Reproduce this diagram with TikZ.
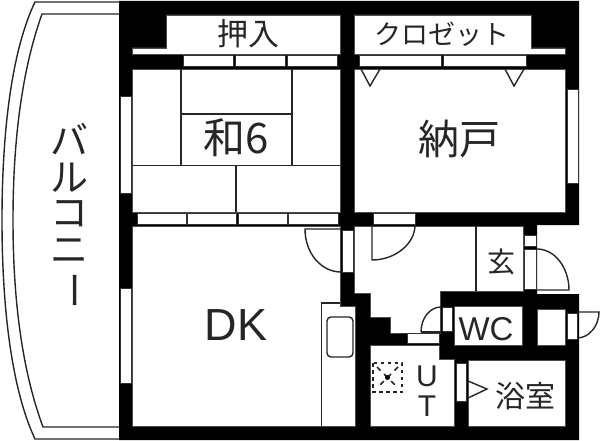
\documentclass[tikz,border=0pt]{standalone}
\usepackage{fontspec}
\setmainfont{Liberation Sans}
\newfontfamily\jpfont{Noto Sans CJK JP}
\usetikzlibrary{positioning}

\begin{document}
\begin{tikzpicture}[x=1pt,y=-1pt]
 \useasboundingbox (0,0) rectangle (600,441);
 \coordinate (origo) at (0,0);

\tikzstyle{room}=[fill=white,draw=black!70,line width=0.6pt]
\tikzstyle{sash}=[fill=white,draw=black!80,line width=1pt]
\tikzstyle{thinline}=[line width=1.4pt,black!85]
\tikzstyle{jplabel}=[inner sep=0pt,font=\jpfont,black!85]
\tikzstyle{latinlabel}=[inner sep=0pt,black!85]

   %draw balcony
    \draw[thinline] (119,2) -- (35,2) .. controls (12,50) and (2,130) .. (2,220) .. controls (2,310) and (12,390) .. (35,439) -- (119,439);
    \draw[thinline] (119,14) -- (42,14) .. controls (22,70) and (13,140) .. (13,220) .. controls (13,300) and (22,370) .. (43,427) -- (119,427);

   %draw walls
    \fill[black] (119,1) -- (579,1) -- (579,225) -- (537,225) -- (537,294) -- (579,294) -- (579,440) -- (119,440) -- cycle;

   %draw rooms
    \filldraw[room] (166,15) -- (340,15) -- (340,54) -- (132,54) -- (132,48) -- (166,48) -- cycle;
    \filldraw[room] (354,15) -- (531,15) -- (531,48) -- (565,48) -- (565,54) -- (354,54) -- cycle;
    \filldraw[room] (132,69) rectangle (340,212);
    \filldraw[room] (354,69) rectangle (565,212);
    \filldraw[room] (132,226) -- (340,226) -- (340,306) -- (355,306) -- (355,426) -- (132,426) -- cycle;
    \filldraw[room] (354,226) -- (523,226) -- (523,291) -- (440,291) -- (440,333) -- (407,333) -- (390,333) -- (390,317) -- (370,317) -- (370,293) -- (354,293) -- cycle;
    \filldraw[room] (454,306) rectangle (522,345);
    \filldraw[room] (537,309) rectangle (565,345);
    \filldraw[room] (370,345) -- (439,345) -- (439,359) -- (454,359) -- (454,426) -- (370,426) -- cycle;
    \filldraw[room] (468,360) rectangle (565,426);

   %draw windows and sliding doors
    \filldraw[sash] (120,97) rectangle (131,194);
    \filldraw[sash] (120,288) rectangle (131,383);
    \filldraw[sash] (567,90) rectangle (578,184);
    \foreach \xa/\xb in {183/233,235/285,287/337,359/441,443/526}
      \filldraw[sash] (\xa,56) rectangle (\xb,67);
    \foreach \xa/\xb in {137/186,187/236,238/287,288/338}
      \filldraw[sash] (\xa,213) rectangle (\xb,224);
    \filldraw[sash] (373,213) rectangle (415,224);
    \filldraw[sash] (342,230) rectangle (353,272);
    \filldraw[sash] (407,333) rectangle (439,343);
    \filldraw[sash] (442,307) rectangle (452,331);
    \filldraw[sash] (524,235) rectangle (536,246);
    \filldraw[sash] (524,249) rectangle (536,289);
    \filldraw[sash] (567,313) rectangle (577,339);
    \filldraw[sash] (456,363) rectangle (466,401);

   %draw tatami
    \draw[thinline] (181,69) -- (181,165);
    \draw[thinline] (292,69) -- (292,165);
    \draw[thinline] (181,114) -- (292,114);
    \draw[thinline] (132,165.5) -- (340,165.5);
    \draw[thinline] (236,165.5) -- (236,212);

   %draw closet marks
    \draw[thinline] (361,69) -- (370,86) -- (380,69);
    \draw[thinline] (505,69) -- (514,86) -- (524,69);

   %draw door leafs
    \draw[thinline] (341,229) -- (305,229) .. controls (305,253) and (321,272) .. (341,272);
    \draw[thinline] (372,225) -- (372,260) .. controls (395,260) and (415,244) .. (415,225);
    \draw[thinline] (537,249) .. controls (555,249) and (569,268) .. (569,290) -- (537,290);
    \draw[thinline] (421,332) .. controls (421,318) and (430,307) .. (441,307);
    \draw[thinline] (421,332) -- (441,332);
    \draw[thinline] (577,312) -- (599,312) .. controls (599,326) and (589,338) .. (577,338);
    \draw[thinline] (468,381) -- (487,389) -- (468,398);

   %draw entrance step
    \draw[thinline] (476,226) -- (476,291);

   %draw kitchen
    \draw[thinline] (321.5,426) -- (321.5,303) -- (340,303);
    \draw[thinline] (327,317) [rounded corners=4pt] -- (353,317) -- (353,357) -- (327,357) -- cycle;

   %draw washing place
    \draw[line width=1.9pt,dashed,dash pattern=on 3.5pt off 3.5pt,black!85] (373,363) rectangle (402,392);
    \draw[line width=1.7pt,dashed,dash pattern=on 5pt off 5pt,black!85] (377,367) -- (398,388);
    \draw[line width=1.7pt,dashed,dash pattern=on 5pt off 5pt,black!85] (398,367) -- (377,388);
    \fill[black] (387.5,377.5) circle (2.5);

   %labels
    \node (closet1_label) at (248,34) [jplabel,font=\jpfont\fontsize{31}{31}\selectfont] {押入};
    \node (closet2_label) at (442,34) [jplabel,font=\jpfont\fontsize{27}{27}\selectfont] {クロゼット};
    \node (washitsu_label) at (236,138) [jplabel,font=\jpfont\fontsize{42}{42}\selectfont] {和6};
    \node (storage_label) at (459,139) [jplabel,font=\jpfont\fontsize{41}{41}\selectfont] {納戸};
    \node (genkan_label) at (501,262) [jplabel,font=\jpfont\fontsize{28}{28}\selectfont] {玄};
    \node (dk_label) at (236,325) [latinlabel,font=\fontsize{45}{45}\selectfont] {DK};
    \node (wc_label) at (486,329) [latinlabel,font=\fontsize{33}{33}\selectfont] {WC};
    \node (bath_label) at (525,396) [jplabel,font=\jpfont\fontsize{30}{30}\selectfont] {浴室};
    \node (u_label) at (427,376) [latinlabel,font=\fontsize{30}{30}\selectfont] {U};
    \node (t_label) at (427,406) [latinlabel,font=\fontsize{30}{30}\selectfont] {T};
    \node (ba_label) at (69,139) [jplabel,font=\jpfont\fontsize{38}{38}\selectfont] {バ};
    \node (ru_label) at (69,178) [jplabel,font=\jpfont\fontsize{38}{38}\selectfont] {ル};
    \node (ko_label) at (69,214) [jplabel,font=\jpfont\fontsize{38}{38}\selectfont] {コ};
    \node (ni_label) at (69,251) [jplabel,font=\jpfont\fontsize{38}{38}\selectfont] {ニ};
    \node (bar_label) at (69,290) [jplabel,font=\jpfont\fontsize{38}{38}\selectfont,rotate=-90] {ー};

\end{tikzpicture}
\end{document}
